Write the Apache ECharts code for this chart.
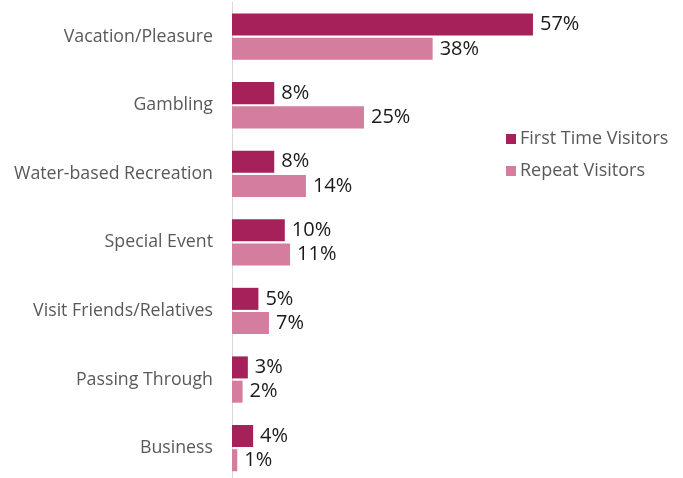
<!DOCTYPE html>
<html>
<head>
<meta charset="utf-8">
<script src="https://cdn.jsdelivr.net/npm/echarts@6/dist/echarts.min.js"></script>
<style>
  html, body { margin: 0; padding: 0; background: #fff; }
  #chart { width: 683px; height: 478px; }
</style>
</head>
<body>
<div id="chart"></div>
<script>
// Reasons for visiting, share of respondents (%)
const categories = [
  'Vacation/Pleasure',
  'Gambling',
  'Water-based Recreation',
  'Special Event',
  'Visit Friends/Relatives',
  'Passing Through',
  'Business'
];
const firstTimeVisitors = [57, 8, 8, 10, 5, 3, 4];
const repeatVisitors = [38, 25, 14, 11, 7, 2, 1];
const seriesNames = ['First Time Visitors', 'Repeat Visitors'];

const FONT = '"Open Sans", "Noto Sans", sans-serif';

const chart = echarts.init(document.getElementById('chart'));

function barSeries(name, values, color) {
  return {
    name: name,
    type: 'bar',
    data: values,
    barGap: '10%',
    barCategoryGap: '32.5%',
    itemStyle: { color: color },
    label: {
      show: true,
      position: 'right',
      distance: 7,
      formatter: '{c}%',
      color: '#1a1a1a',
      fontFamily: FONT,
      fontSize: 20
    },
    emphasis: { disabled: true }
  };
}

chart.setOption({
  animation: false,
  grid: { left: 232, top: 2.4, width: 422.4, height: 480, outerBoundsMode: 'none' },
  legend: {
    orient: 'vertical',
    left: 501,
    top: 125,
    itemWidth: 10,
    itemHeight: 10,
    itemGap: 14,
    icon: 'rect',
    textStyle: { color: '#595959', fontFamily: FONT, fontSize: 18, padding: [0, 0, 0, -1] },
    data: seriesNames
  },
  xAxis: {
    type: 'value',
    min: 0,
    max: 80,
    show: false
  },
  yAxis: {
    type: 'category',
    data: categories,
    inverse: true,
    axisLine: { show: true, lineStyle: { color: '#d9d9d9', width: 1 } },
    axisTick: { show: false },
    axisLabel: { color: '#595959', fontFamily: FONT, fontSize: 17.75, margin: 19 },
    splitLine: { show: false }
  },
  series: [
    barSeries(seriesNames[0], firstTimeVisitors, '#a6215a'),
    barSeries(seriesNames[1], repeatVisitors, '#d47d9e')
  ]
});
</script>
</body>
</html>
